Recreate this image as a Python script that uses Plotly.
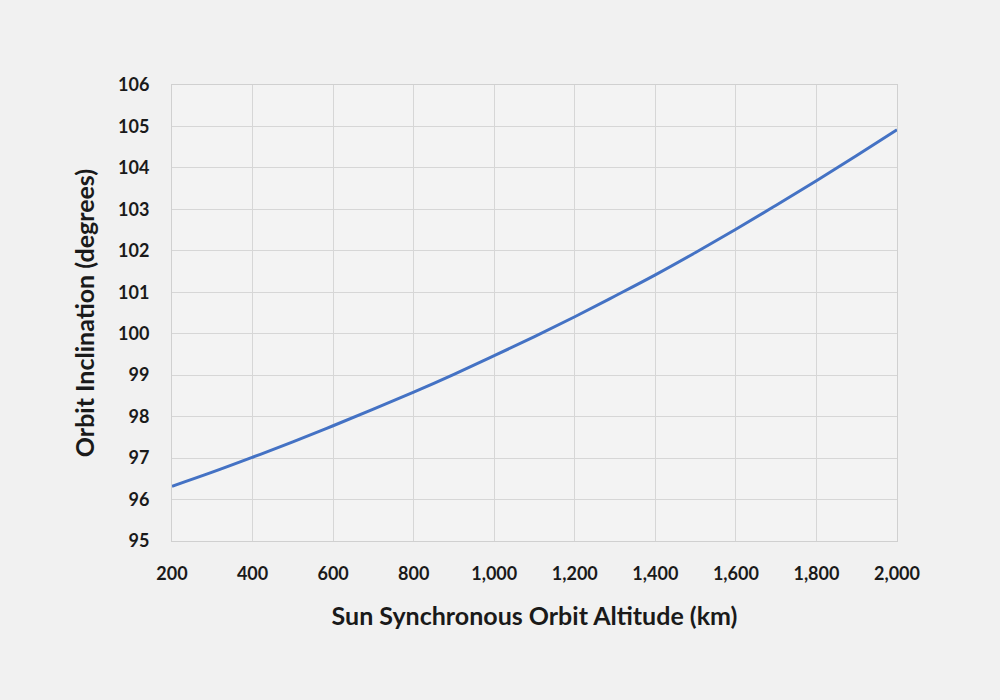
import plotly.graph_objects as go

altitude_km = [200, 300, 400, 500, 600, 700, 800, 900, 1000, 1100, 1200,
               1300, 1400, 1500, 1600, 1700, 1800, 1900, 2000]
inclination_deg = [96.32, 96.66, 97.02, 97.39, 97.78, 98.18, 98.59, 99.02, 99.47,
                   99.93, 100.41, 100.91, 101.42, 101.96, 102.52, 103.10, 103.69,
                   104.30, 104.92]
x_ticks = [200, 400, 600, 800, 1000, 1200, 1400, 1600, 1800, 2000]
x_tick_labels = ["200", "400", "600", "800", "1,000", "1,200", "1,400", "1,600", "1,800", "2,000"]
y_ticks = list(range(95, 107))

fig = go.Figure()
fig.add_trace(go.Scatter(
    x=altitude_km, y=inclination_deg, mode="lines",
    line=dict(color="#4472C4", width=3, shape="spline"),
    showlegend=False, hoverinfo="x+y"))

font_family = "Lato, 'Open Sans', sans-serif"
fig.update_layout(
    width=1000, height=700,
    margin=dict(l=172, r=103, t=85, b=159),
    paper_bgcolor="#f1f1f1", plot_bgcolor="#f3f3f3",
    font=dict(family=font_family, color="#1a1a1a"),
    xaxis=dict(
        range=[200, 2000], tickvals=x_ticks, ticktext=x_tick_labels,
        showgrid=True, gridcolor="#d6d6d6", gridwidth=1,
        showline=True, linecolor="#d0d0d0", mirror=True, zeroline=False,
        ticks="", ticklabelstandoff=16,
        tickfont=dict(size=18, family=font_family, weight="bold", color="#1a1a1a"),
        title=dict(text="Sun Synchronous Orbit Altitude (km)", standoff=24,
                   font=dict(size=25, family=font_family, weight="bold", color="#1a1a1a"))),
    yaxis=dict(
        range=[95, 106], tickvals=y_ticks,
        showgrid=True, gridcolor="#d6d6d6", gridwidth=1,
        showline=True, linecolor="#d0d0d0", mirror=True, zeroline=False,
        ticks="", ticklabelstandoff=18,
        tickfont=dict(size=18, family=font_family, weight="bold", color="#1a1a1a"),
        title=dict(text="Orbit Inclination (degrees)", standoff=16,
                   font=dict(size=25, family=font_family, weight="bold", color="#1a1a1a"))),
)

fig.write_html("out.html")
